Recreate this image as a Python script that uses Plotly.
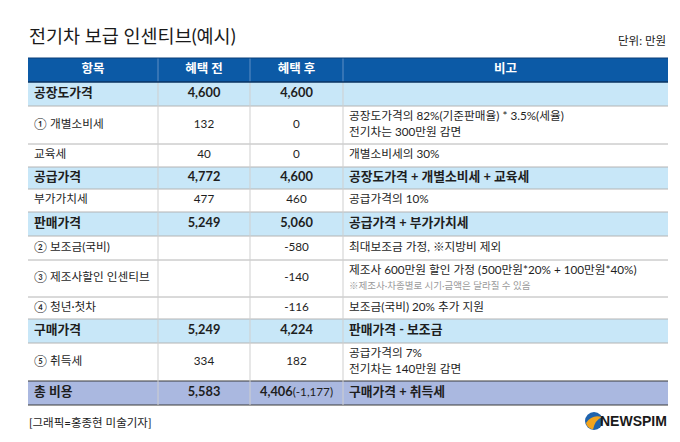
import plotly.graph_objects as go

# ---------------- data ----------------
title = "전기차 보급 인센티브(예시)"
unit = "단위: 만원"
credit = "[그래픽=홍종현 미술기자]"
headers = ["항목", "혜택 전", "혜택 후", "비고"]

items = ["공장도가격", "① 개별소비세", "교육세", "공급가격", "부가가치세", "판매가격",
         "② 보조금(국비)", "③ 제조사할인 인센티브", "④ 청년·첫차", "구매가격", "⑤ 취득세", "총 비용"]
before = ["4,600", "132", "40", "4,772", "477", "5,249", "", "", "", "5,249", "334", "5,583"]
after = ["4,600", "0", "0", "4,600", "460", "5,060", "-580", "-140", "-116", "4,224", "182", "4,406"]
after_change = ["", "", "", "", "", "", "", "", "", "", "", "(-1,177)"]
notes = ["",
         "공장도가격의 82%(기준판매율) * 3.5%(세율)<br>전기차는 300만원 감면",
         "개별소비세의 30%",
         "공장도가격 + 개별소비세 + 교육세",
         "공급가격의 10%",
         "공급가격 + 부가가치세",
         "최대보조금 가정, ※지방비 제외",
         "제조사 600만원 할인 가정 (500만원*20% + 100만원*40%)",
         "보조금(국비) 20% 추가 지원",
         "판매가격 - 보조금",
         "공급가격의 7%<br>전기차는 140만원 감면",
         "구매가격 + 취득세"]
notes_sub = ["", "", "", "", "", "", "", "※제조사·차종별로 시기·금액은 달라질 수 있음", "", "", "", ""]
kind = ["sum", "item", "item", "sum", "item", "sum", "item", "item", "item", "sum", "item", "total"]

# ---------------- layout / style ----------------
W, H = 680, 442
LEFT = 20
COL_W = [130, 92, 93, 325]
TOP = 50
HEAD_H = 24
ROW_H = [24, 38, 23, 22, 23, 24, 24, 37, 22, 24, 38, 24]

FONT = "Lato, 'Noto Sans CJK KR', sans-serif"
HEAD_BG = "#0c5aa6"
SUM_BG = "#c8e7f8"
TOTAL_BG = "#aab8e0"
ITEM_BG = "#ffffff"
TEXT = "#1e1e1e"

col_x = [LEFT]
for w in COL_W:
    col_x.append(col_x[-1] + w)
RIGHT = col_x[-1]

row_y = [TOP + HEAD_H]
for h in ROW_H:
    row_y.append(row_y[-1] + h)
BOTTOM = row_y[-1]
centers = [(row_y[i] + row_y[i + 1]) / 2 for i in range(len(items))]

shapes = []
# header background
shapes.append(dict(type="rect", xref="x", yref="y", x0=LEFT, x1=RIGHT, y0=TOP, y1=TOP + HEAD_H,
                   fillcolor=HEAD_BG, line=dict(width=0), layer="below"))
# row backgrounds
bg = {"sum": SUM_BG, "total": TOTAL_BG, "item": ITEM_BG}
for i, k in enumerate(kind):
    shapes.append(dict(type="rect", xref="x", yref="y", x0=LEFT, x1=RIGHT, y0=row_y[i], y1=row_y[i + 1],
                       fillcolor=bg[k], line=dict(width=0), layer="below"))
# horizontal lines
for i in range(1, len(items)):
    dark = kind[i] == "total"
    shapes.append(dict(type="line", xref="x", yref="y", x0=LEFT, x1=RIGHT, y0=row_y[i], y1=row_y[i],
                       line=dict(color="#3a3a3a" if dark else "#b4b4b4", width=1)))
shapes.append(dict(type="line", xref="x", yref="y", x0=LEFT, x1=RIGHT, y0=BOTTOM, y1=BOTTOM,
                   line=dict(color="#3a3a3a", width=1)))
# vertical column lines
for cx in col_x[1:-1]:
    shapes.append(dict(type="line", xref="x", yref="y", x0=cx, x1=cx, y0=TOP + HEAD_H, y1=BOTTOM,
                       line=dict(color="#cfcfcf", width=1)))
    shapes.append(dict(type="line", xref="x", yref="y", x0=cx, x1=cx, y0=TOP, y1=TOP + HEAD_H,
                       line=dict(color="#5e8ec4", width=1)))
# header edges
shapes.append(dict(type="line", xref="x", yref="y", x0=LEFT, x1=RIGHT, y0=TOP + HEAD_H, y1=TOP + HEAD_H,
                   line=dict(color="#0a3360", width=1.5)))
shapes.append(dict(type="line", xref="x", yref="y", x0=LEFT, x1=RIGHT, y0=TOP, y1=TOP,
                   line=dict(color="#0a3f78", width=1)))

# logo icon
LX, LY, LR = 586, 413, 9
shapes.append(dict(type="circle", xref="x", yref="y", x0=LX - LR, x1=LX + LR, y0=LY - LR, y1=LY + LR,
                   fillcolor="#1f63ad", line=dict(width=0)))
shapes.append(dict(type="path", xref="x", yref="y",
                   path=f"M {LX-LR+1} {LY+2} Q {LX-2} {LY-7} {LX+LR-1} {LY-4} Q {LX+1} {LY-1} {LX-1} {LY+LR-0.5} "
                        f"Q {LX-7} {LY+7} {LX-LR+1} {LY+2} Z",
                   fillcolor="#f2a41d", line=dict(width=0)))


def style(txt, k):
    if not txt:
        return ""
    if k in ("sum", "total"):
        return f"<b>{txt}</b>"
    return txt


fig = go.Figure()

# header texts
head_x = [(col_x[i] + col_x[i + 1]) / 2 for i in range(4)]
fig.add_trace(go.Scatter(x=head_x, y=[TOP + HEAD_H / 2] * 4, mode="text",
                         text=[f"<b>{h}</b>" for h in headers], textposition="middle center",
                         textfont=dict(family=FONT, size=12.5, color="white"), hoverinfo="skip"))

sizes = [12.8 if k != "item" else 11.7 for k in kind]

# items column
fig.add_trace(go.Scatter(x=[col_x[0] + 6] * len(items), y=centers, mode="text",
                         text=[style(t, k) for t, k in zip(items, kind)], textposition="middle right",
                         textfont=dict(family=FONT, size=sizes, color=TEXT), hoverinfo="skip"))
# before column
fig.add_trace(go.Scatter(x=[head_x[1]] * len(items), y=centers, mode="text",
                         text=[style(t, k) for t, k in zip(before, kind)], textposition="middle center",
                         textfont=dict(family=FONT, size=sizes, color=TEXT), hoverinfo="skip"))
# after column
after_txt = []
for t, c, k in zip(after, after_change, kind):
    s = style(t, k)
    if c:
        s += f"<span style='font-size:11.7px'>{c}</span>"
    after_txt.append(s)
fig.add_trace(go.Scatter(x=[head_x[2]] * len(items), y=centers, mode="text",
                         text=after_txt, textposition="middle center",
                         textfont=dict(family=FONT, size=sizes, color=TEXT), hoverinfo="skip"))
# notes column
notes_txt = []
for t, s2, k in zip(notes, notes_sub, kind):
    s = style(t, k)
    if s2:
        s += f"<br><span style='font-size:9.5px;color:#9a9a9a'>{s2}</span>"
    notes_txt.append(s)
fig.add_trace(go.Scatter(x=[col_x[3] + 6] * len(items), y=centers, mode="text",
                         text=notes_txt, textposition="middle right",
                         textfont=dict(family=FONT, size=sizes, color=TEXT), hoverinfo="skip"))

annotations = [
    dict(text=title, x=LEFT - 1, y=28, xref="x", yref="y", xanchor="left", yanchor="middle", showarrow=False,
         font=dict(family=FONT, size=18.5, color="#1a1a1a")),
    dict(text=unit, x=RIGHT, y=32, xref="x", yref="y", xanchor="right", yanchor="middle", showarrow=False,
         font=dict(family=FONT, size=11.5, color="#1a1a1a")),
    dict(text=credit, x=LEFT - 1, y=414, xref="x", yref="y", xanchor="left", yanchor="middle", showarrow=False,
         font=dict(family=FONT, size=11.5, color="#1a1a1a")),
    dict(text="<b>NEWSPIM</b>", x=RIGHT + 1, y=413, xref="x", yref="y", xanchor="right", yanchor="middle",
         showarrow=False, font=dict(family="'Liberation Sans', Arial, sans-serif", size=14, color="#1a1a1a")),
]

fig.update_layout(
    width=W, height=H, margin=dict(l=0, r=0, t=0, b=0),
    paper_bgcolor="white", plot_bgcolor="white", showlegend=False,
    xaxis=dict(range=[0, W], visible=False, fixedrange=True),
    yaxis=dict(range=[H, 0], visible=False, fixedrange=True),
    shapes=shapes, annotations=annotations,
)

fig.write_html("out.html")
